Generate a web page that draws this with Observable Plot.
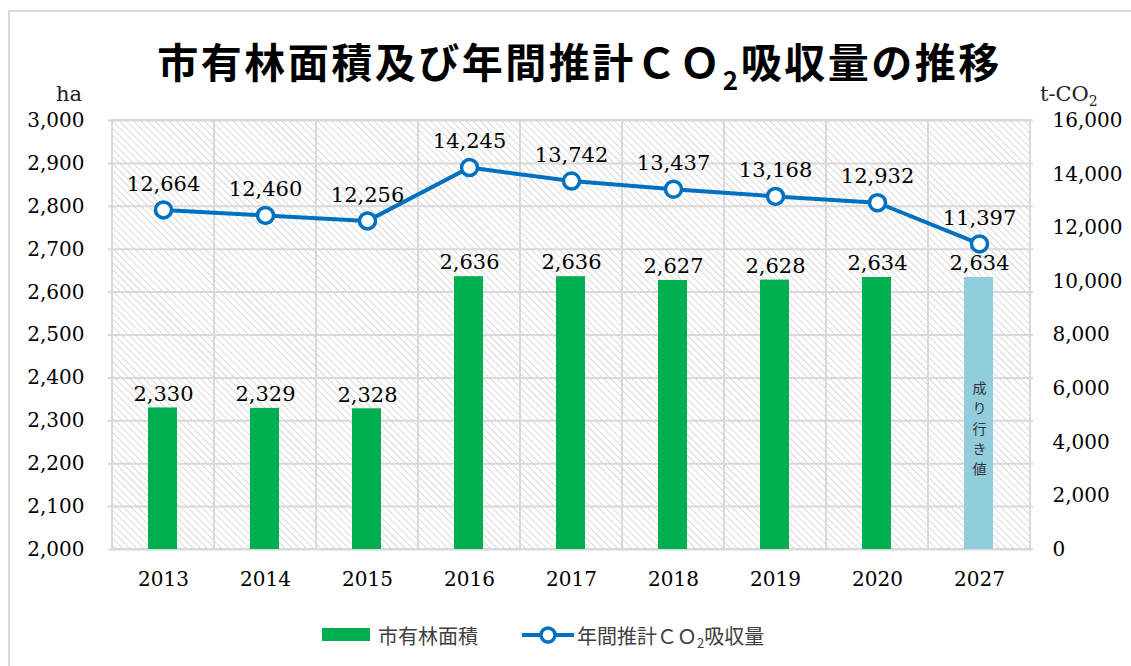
<!DOCTYPE html>
<html><head><meta charset="utf-8">
<script src="https://cdn.jsdelivr.net/npm/d3@7"></script>
<script src="https://cdn.jsdelivr.net/npm/@observablehq/plot@0.6"></script>
<style>
body{margin:0;background:#fff;}
#wrap{position:relative;width:1131px;height:666px;overflow:hidden;background:#fff;}
#border{position:absolute;left:8px;top:10px;width:1140px;height:680px;border:2px solid #d9d9d9;box-sizing:border-box;}
#title{position:absolute;left:14px;top:30px;width:1131px;text-align:center;font-family:"Noto Sans CJK JP";font-weight:700;font-size:41px;line-height:60px;color:#000;letter-spacing:2.5px;}
#title .sub{font-size:26px;position:relative;top:12px;font-family:"Noto Sans CJK JP";}
#chart{position:absolute;left:0;top:80px;}
.unit{position:absolute;top:82px;font-family:'DejaVu Serif',serif;font-size:21px;color:#222;}
#legend{position:absolute;top:620px;left:0;width:1131px;height:30px;font-family:"Noto Sans CJK JP";font-size:20px;color:#404040;}
.lg{position:absolute;top:0;display:flex;align-items:center;height:30px;}
#chart svg text{font-family:'DejaVu Serif',serif;}
#chart svg g.vt text{font-family:'Noto Sans CJK JP';}
</style></head>
<body><div id="wrap">
<div id="border"></div>
<div id="title">市有林面積及び年間推計ＣＯ<span class="sub">2</span>吸収量の推移</div>
<div class="unit" style="left:56px;">ha</div>
<div class="unit" style="left:1040px;">t-CO<span style="font-size:14px;position:relative;top:5px;">2</span></div>
<div id="chart"></div>
<div id="legend">
  <div class="lg" style="left:322px;"><svg width="48" height="14"><rect width="48" height="13" fill="#00B050"/></svg><span style="margin-left:8px;">市有林面積</span></div>
  <div class="lg" style="left:522px;"><svg width="52" height="20"><line x1="0" x2="52" y1="10" y2="10" stroke="#0070C0" stroke-width="4"/><circle cx="26" cy="10" r="7" fill="#fff" stroke="#0070C0" stroke-width="3.5"/></svg><span style="margin-left:3px;">年間推計ＣＯ<span style="font-size:13px;position:relative;top:4px;">2</span>吸収量</span></div>
</div>
</div>
<script>
const years = ["2013","2014","2015","2016","2017","2018","2019","2020","2027"];
const forestArea = [2330, 2329, 2328, 2636, 2636, 2627, 2628, 2634, 2634];
const co2Absorption = [12664, 12460, 12256, 14245, 13742, 13437, 13168, 12932, 11397];
const isProjection = [false, false, false, false, false, false, false, false, true];
const leftTicks = [2000,2100,2200,2300,2400,2500,2600,2700,2800,2900,3000];
const rightTicks = [0,2000,4000,6000,8000,10000,12000,14000,16000];
const projectionLabel = "成り行き値";

const leftMin = 2000, leftMax = 3000, rightMax = 16000;
const toLeft = v => leftMin + v / rightMax * (leftMax - leftMin);
const fromLeft = v => (v - leftMin) / (leftMax - leftMin) * rightMax;

const data = years.map((y, i) => ({year: y, area: forestArea[i], co2: co2Absorption[i], co2y: toLeft(co2Absorption[i]), proj: isProjection[i]}));
const fmt = d3.format(",");

const plot = Plot.plot({
  width: 1131, height: 530,
  marginTop: 40, marginBottom: 61, marginLeft: 108, marginRight: 98,
  style: {fontFamily: "'DejaVu Serif', serif", fontSize: "20px", color: "#000", background: "transparent"},
  x: {type: "band", domain: years, padding: 0},
  y: {domain: [leftMin, leftMax]},
  marks: [
    Plot.barY(years, {x: d => d, y1: leftMin, y2: leftMax, fill: "url(#hatch)", stroke: "#d9d9d9", strokeWidth: 2}),
    Plot.ruleY(leftTicks, {stroke: "#d9d9d9", strokeWidth: 2}),
    Plot.barY(data, {x: "year", y1: leftMin, y2: "area", fill: d => d.proj ? "#92CDDC" : "#00B050", insetLeft: 36, insetRight: 37}),
    Plot.text(data.filter(d => d.proj), {x: "year", y: 2285, text: () => projectionLabel.split("").join("\n"), fontSize: 14, lineHeight: 1.45, fill: "#333", className: "vt"}),
    Plot.text(data, {x: "year", y: "area", text: d => fmt(d.area), dy: -14, fontSize: 21}),
    Plot.line(data, {x: "year", y: "co2y", stroke: "#0070C0", strokeWidth: 4}),
    Plot.dot(data, {x: "year", y: "co2y", r: 8, fill: "#fff", stroke: "#0070C0", strokeWidth: 3.5}),
    Plot.text(data, {x: "year", y: "co2y", text: d => fmt(d.co2), dy: -26, fontSize: 21}),
    Plot.axisX({tickSize: 0, tickPadding: 22, label: null, fontSize: 20}),
    Plot.axisY(leftTicks, {anchor: "left", tickSize: 0, tickPadding: 24, tickFormat: fmt, label: null, fontSize: 20}),
    Plot.axisY(rightTicks.map(toLeft), {anchor: "right", tickSize: 0, tickPadding: 19, tickFormat: d => fmt(Math.round(fromLeft(d))), label: null, fontSize: 20})
  ]
});

const ns = "http://www.w3.org/2000/svg";
const defs = document.createElementNS(ns, "defs");
defs.innerHTML = '<pattern id="hatch" patternUnits="userSpaceOnUse" width="5" height="5" patternTransform="rotate(-45)"><rect width="5" height="5" fill="#fff"/><line x1="0" y1="0" x2="0" y2="5" stroke="#d9d9d9" stroke-width="2"/></pattern>';
plot.insertBefore(defs, plot.firstChild);
document.getElementById("chart").appendChild(plot);
</script>
</body></html>
